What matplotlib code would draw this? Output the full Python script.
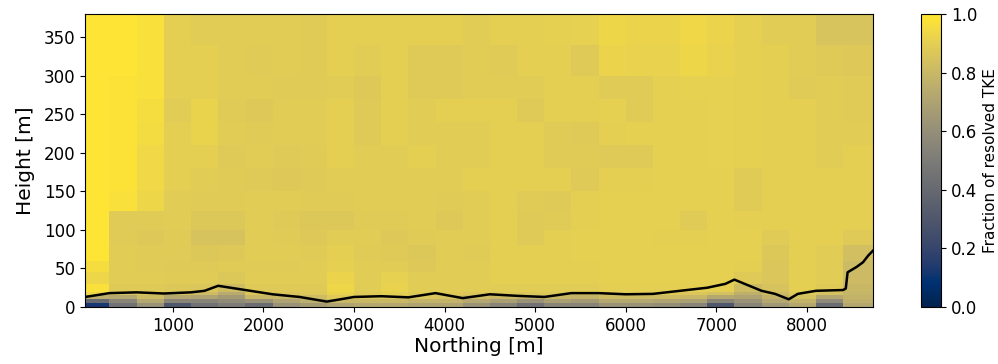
import matplotlib
matplotlib.use("Agg")
import matplotlib.pyplot as plt
import numpy as np

# Column edges along the transect [m] and height band edges [m]
northing_edges = [30, 300, 600, 900, 1200, 1500, 1800, 2100, 2400, 2700, 3000,
                  3300, 3600, 3900, 4200, 4500, 4800, 5100, 5400, 5700, 6000,
                  6300, 6600, 6900, 7200, 7500, 7800, 8100, 8400, 8730]
height_edges = [0, 5, 10, 15, 20, 30, 45, 60, 80, 100, 125, 150, 180, 210,
                240, 270, 300, 340, 380]

# Fraction of resolved TKE, one list per column (bottom -> top)
resolved_frac = [
    [0.12, 0.40, 0.75, 0.93, 0.97, 0.93, 0.96, 0.99, 0.99, 0.99, 0.99, 0.99, 0.99, 0.99, 0.99, 0.99, 0.99, 0.99],
    [0.45, 0.55, 0.72, 0.85, 0.88, 0.89, 0.89, 0.89, 0.885, 0.885, 0.97, 0.98, 0.98, 0.98, 0.98, 0.98, 0.99, 0.99],
    [0.62, 0.72, 0.82, 0.86, 0.88, 0.89, 0.885, 0.885, 0.875, 0.885, 0.93, 0.94, 0.94, 0.95, 0.96, 0.97, 0.97, 0.97],
    [0.30, 0.55, 0.72, 0.84, 0.87, 0.885, 0.88, 0.885, 0.885, 0.89, 0.89, 0.90, 0.90, 0.90, 0.89, 0.90, 0.90, 0.90],
    [0.45, 0.55, 0.70, 0.82, 0.86, 0.885, 0.88, 0.87, 0.85, 0.87, 0.885, 0.89, 0.90, 0.92, 0.92, 0.90, 0.90, 0.89],
    [0.50, 0.58, 0.66, 0.74, 0.82, 0.87, 0.885, 0.875, 0.85, 0.87, 0.885, 0.885, 0.88, 0.89, 0.885, 0.89, 0.89, 0.89],
    [0.42, 0.62, 0.80, 0.86, 0.88, 0.89, 0.885, 0.89, 0.89, 0.89, 0.89, 0.88, 0.89, 0.885, 0.875, 0.89, 0.885, 0.89],
    [0.62, 0.70, 0.80, 0.86, 0.88, 0.89, 0.885, 0.89, 0.885, 0.88, 0.89, 0.875, 0.88, 0.89, 0.89, 0.885, 0.89, 0.89],
    [0.66, 0.75, 0.82, 0.87, 0.88, 0.89, 0.89, 0.885, 0.875, 0.87, 0.885, 0.88, 0.885, 0.89, 0.89, 0.885, 0.885, 0.885],
    [0.70, 0.80, 0.88, 0.92, 0.93, 0.925, 0.905, 0.90, 0.89, 0.87, 0.885, 0.89, 0.90, 0.90, 0.90, 0.89, 0.90, 0.90],
    [0.72, 0.80, 0.86, 0.88, 0.89, 0.89, 0.89, 0.885, 0.89, 0.885, 0.89, 0.89, 0.89, 0.88, 0.88, 0.875, 0.89, 0.90],
    [0.72, 0.80, 0.86, 0.90, 0.915, 0.91, 0.89, 0.88, 0.875, 0.885, 0.89, 0.89, 0.89, 0.90, 0.90, 0.90, 0.90, 0.90],
    [0.70, 0.78, 0.86, 0.88, 0.89, 0.89, 0.875, 0.87, 0.885, 0.89, 0.89, 0.89, 0.90, 0.89, 0.89, 0.88, 0.88, 0.90],
    [0.70, 0.78, 0.85, 0.88, 0.89, 0.89, 0.89, 0.89, 0.89, 0.875, 0.885, 0.89, 0.89, 0.89, 0.90, 0.88, 0.88, 0.90],
    [0.62, 0.72, 0.82, 0.87, 0.89, 0.89, 0.89, 0.885, 0.89, 0.89, 0.89, 0.90, 0.89, 0.89, 0.90, 0.89, 0.89, 0.89],
    [0.55, 0.68, 0.80, 0.87, 0.89, 0.90, 0.90, 0.90, 0.90, 0.90, 0.90, 0.90, 0.90, 0.90, 0.90, 0.89, 0.885, 0.90],
    [0.45, 0.62, 0.78, 0.86, 0.89, 0.90, 0.90, 0.90, 0.88, 0.88, 0.885, 0.90, 0.90, 0.90, 0.88, 0.89, 0.90, 0.90],
    [0.55, 0.68, 0.80, 0.87, 0.89, 0.90, 0.90, 0.90, 0.90, 0.885, 0.88, 0.90, 0.885, 0.885, 0.90, 0.90, 0.90, 0.905],
    [0.55, 0.66, 0.78, 0.86, 0.89, 0.90, 0.90, 0.905, 0.905, 0.90, 0.90, 0.88, 0.885, 0.88, 0.90, 0.90, 0.88, 0.91],
    [0.62, 0.72, 0.82, 0.88, 0.90, 0.905, 0.905, 0.905, 0.905, 0.905, 0.905, 0.90, 0.88, 0.90, 0.905, 0.885, 0.925, 0.93],
    [0.62, 0.72, 0.82, 0.88, 0.90, 0.905, 0.905, 0.905, 0.905, 0.905, 0.905, 0.90, 0.88, 0.905, 0.885, 0.885, 0.915, 0.925],
    [0.60, 0.70, 0.82, 0.88, 0.90, 0.905, 0.905, 0.905, 0.90, 0.905, 0.905, 0.905, 0.905, 0.905, 0.905, 0.905, 0.915, 0.925],
    [0.55, 0.68, 0.80, 0.86, 0.90, 0.905, 0.905, 0.905, 0.90, 0.885, 0.905, 0.905, 0.905, 0.905, 0.905, 0.91, 0.93, 0.935],
    [0.30, 0.55, 0.72, 0.84, 0.90, 0.905, 0.905, 0.905, 0.905, 0.905, 0.905, 0.905, 0.91, 0.91, 0.91, 0.91, 0.915, 0.925],
    [0.55, 0.62, 0.70, 0.76, 0.82, 0.88, 0.90, 0.905, 0.905, 0.90, 0.885, 0.885, 0.905, 0.905, 0.905, 0.905, 0.905, 0.905],
    [0.65, 0.72, 0.78, 0.82, 0.85, 0.86, 0.86, 0.87, 0.885, 0.90, 0.90, 0.90, 0.90, 0.90, 0.90, 0.90, 0.90, 0.89],
    [0.72, 0.78, 0.84, 0.88, 0.90, 0.90, 0.90, 0.90, 0.90, 0.90, 0.90, 0.90, 0.90, 0.90, 0.90, 0.885, 0.89, 0.89],
    [0.42, 0.58, 0.72, 0.84, 0.88, 0.89, 0.89, 0.89, 0.90, 0.90, 0.90, 0.90, 0.89, 0.89, 0.89, 0.89, 0.88, 0.855],
    [0.72, 0.76, 0.78, 0.79, 0.80, 0.81, 0.81, 0.83, 0.88, 0.90, 0.90, 0.90, 0.90, 0.89, 0.885, 0.885, 0.875, 0.855],
]

# Boundary-layer height along the transect
line_northing = [30, 300, 600, 900, 1200, 1350, 1500, 1800, 2100, 2400, 2700,
                 3000, 3300, 3600, 3900, 4200, 4500, 4800, 5100, 5400, 5700,
                 6000, 6300, 6600, 6900, 7100, 7200, 7500, 7650, 7800, 7900,
                 8100, 8400, 8430, 8450, 8550, 8620, 8680, 8730]
line_height = [13, 18, 19, 17.5, 19, 21, 27.5, 22, 16.5, 13, 7,
               13, 14, 12.5, 18, 11.5, 16.5, 14.5, 13, 18, 18,
               16.5, 17, 21, 25, 30, 35.5, 21, 17, 10, 17,
               21, 22, 24, 45, 52, 58, 67, 73]


def make_plot(out="out.png"):
    fig = plt.figure(figsize=(9.98, 3.64), dpi=100)
    ax = fig.add_axes([0.0852, 0.1566, 0.7895, 0.8049])
    cax = fig.add_axes([0.9228, 0.1566, 0.0200, 0.8049])

    data = np.array(resolved_frac).T
    mesh = ax.pcolormesh(northing_edges, height_edges, data, cmap="cividis",
                         vmin=0, vmax=1, shading="flat")
    ax.plot(line_northing, line_height, color="black", lw=1.8)

    ax.set_xlim(30, 8730)
    ax.set_ylim(0, 380)
    ax.set_xticks(range(1000, 9000, 1000))
    ax.set_yticks(range(0, 400, 50))
    ax.tick_params(labelsize=12)
    ax.set_xlabel("Northing [m]", fontsize=14.5, labelpad=2)
    ax.set_ylabel("Height [m]", fontsize=14.5, labelpad=6)

    cb = fig.colorbar(mesh, cax=cax)
    cb.set_ticks([0, 0.2, 0.4, 0.6, 0.8, 1.0])
    cb.ax.tick_params(labelsize=12)
    cb.set_label("Fraction of resolved TKE", fontsize=11)

    fig.savefig(out, dpi=100)


if __name__ == "__main__":
    make_plot()
